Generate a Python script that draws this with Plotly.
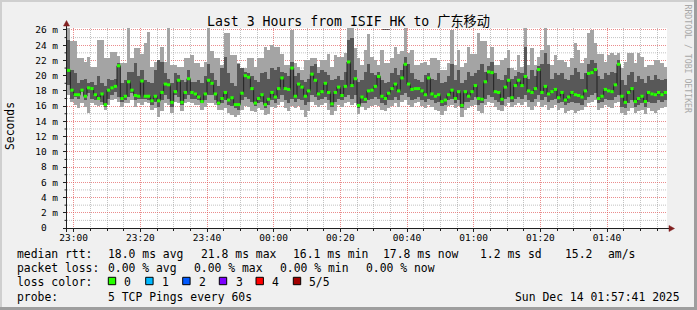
import plotly.graph_objects as go
from datetime import datetime, timedelta

# ---------------- data (ms) ----------------
median_rtt = [
    20.7, 18.1, 17.5, 17.5, 18.1, 17.3, 18.4, 18.3, 17.5, 17.0,
    17.6, 16.2, 18.1, 18.4, 18.6, 21.3, 17.0, 17.3, 19.2, 18.1,
    17.4, 17.3, 19.3, 17.3, 17.3, 16.7, 17.3, 16.7, 17.8, 18.9,
    18.8, 16.5, 17.9, 19.4, 16.5, 17.8, 19.6, 17.8, 17.6, 17.2,
    16.6, 17.6, 19.4, 19.0, 17.6, 16.4, 17.0, 17.8, 16.8, 17.1,
    16.2, 16.2, 17.7, 20.0, 19.8, 18.3, 16.4, 17.0, 17.5, 16.2,
    16.9, 17.8, 17.2, 18.3, 19.7, 18.3, 18.2, 21.0, 17.3, 18.9,
    18.5, 17.3, 18.0, 20.2, 19.4, 17.6, 17.9, 19.0, 17.8, 16.3,
    17.8, 18.5, 17.4, 18.6, 21.8, 18.7, 19.6, 16.1, 17.2, 16.9,
    18.0, 18.1, 18.6, 19.9, 17.3, 17.0, 17.7, 18.3, 18.9, 18.0,
    19.7, 21.5, 18.9, 18.2, 18.3, 18.3, 18.0, 17.5, 19.7, 17.6,
    17.3, 17.5, 16.6, 16.8, 17.5, 18.1, 17.0, 17.9, 16.1, 17.9,
    17.3, 17.9, 18.7, 17.0, 16.9, 19.2, 20.5, 20.4, 17.9, 17.8,
    16.9, 18.5, 19.4, 17.1, 18.7, 19.4, 18.7, 19.9, 18.0, 17.8,
    18.3, 20.8, 17.8, 18.6, 17.6, 17.9, 18.2, 17.1, 17.8, 16.8,
    17.2, 17.8, 17.5, 17.4, 17.2, 18.0, 20.3, 20.4, 20.8, 17.0,
    17.3, 18.2, 18.0, 17.9, 18.8, 21.5, 17.3, 16.5, 17.8, 18.3,
    16.6, 17.0, 17.3, 16.6, 17.8, 17.6, 17.5, 17.8, 17.5, 17.8,
]

ping_max = [
    26.5, 24.5, 24.5, 22.3, 22.3, 21.8, 22.5, 21.2, 21.2, 24.7,
    24.7, 22.3, 22.3, 23.1, 23.1, 22.6, 21.6, 21.6, 26.5, 22.3,
    23.6, 23.6, 22.9, 24.3, 25.7, 21.2, 21.8, 21.8, 23.8, 21.8,
    26.5, 21.4, 21.4, 21.2, 21.2, 22.3, 22.3, 22.7, 21.6, 21.6,
    21.2, 21.8, 26.5, 23.2, 22.3, 22.3, 21.4, 25.6, 25.6, 22.7,
    22.7, 21.6, 21.0, 21.0, 22.3, 22.3, 21.2, 22.3, 22.3, 23.8,
    23.4, 24.0, 23.8, 23.8, 22.9, 21.4, 21.4, 26.0, 21.6, 21.2,
    20.8, 22.0, 22.0, 22.3, 22.3, 21.2, 22.0, 22.0, 22.9, 21.2,
    22.7, 22.5, 22.5, 23.0, 26.5, 26.5, 23.6, 22.3, 21.4, 23.4,
    25.5, 22.5, 22.0, 21.4, 23.4, 21.6, 21.6, 22.3, 23.8, 22.9,
    23.2, 26.5, 23.0, 23.4, 21.4, 21.4, 21.6, 21.8, 21.4, 22.3,
    22.3, 22.0, 20.8, 20.8, 21.6, 26.0, 21.4, 23.4, 21.2, 21.6,
    23.8, 22.9, 22.9, 25.6, 24.5, 24.5, 22.3, 23.8, 21.4, 21.4,
    22.0, 22.3, 23.4, 21.0, 20.8, 22.7, 21.2, 26.5, 21.4, 23.6,
    21.4, 22.5, 23.4, 26.5, 24.0, 21.4, 22.7, 22.0, 22.0, 21.8,
    21.2, 22.3, 24.3, 23.4, 21.6, 22.3, 25.6, 26.0, 24.3, 22.9,
    22.9, 21.8, 22.7, 23.0, 22.7, 23.0, 21.0, 21.8, 23.0, 23.0,
    21.6, 23.0, 22.5, 21.2, 21.4, 21.4, 22.0, 22.0, 21.6, 21.2,
]

ping_q3 = [
    24.7, 20.8, 20.3, 19.0, 19.4, 19.6, 19.0, 19.2, 18.8, 19.9,
    19.0, 18.6, 19.6, 19.4, 19.6, 21.6, 19.0, 19.4, 20.5, 20.5,
    21.6, 19.9, 20.8, 19.4, 19.2, 19.0, 20.8, 22.1, 21.8, 20.3,
    19.6, 19.0, 20.3, 20.1, 19.4, 19.2, 20.8, 19.2, 19.2, 19.4,
    19.0, 19.9, 21.5, 20.3, 19.4, 18.6, 21.0, 22.5, 20.3, 19.0,
    18.6, 21.5, 21.0, 20.5, 20.3, 19.9, 19.4, 19.2, 20.3, 20.5,
    19.6, 21.0, 20.8, 21.2, 20.5, 20.3, 19.9, 21.8, 19.9, 20.3,
    19.4, 19.2, 19.6, 21.3, 21.5, 20.3, 20.8, 20.5, 20.1, 19.4,
    19.6, 19.9, 19.4, 20.5, 24.7, 25.0, 20.8, 19.2, 19.4, 20.5,
    21.5, 20.3, 20.1, 20.5, 19.4, 19.0, 19.2, 20.3, 21.0, 20.1,
    20.8, 22.5, 21.5, 20.3, 19.6, 19.4, 19.2, 20.1, 20.3, 19.6,
    19.4, 20.3, 19.0, 19.2, 19.9, 21.5, 19.4, 20.8, 19.0, 19.4,
    20.5, 19.9, 20.3, 20.8, 21.5, 20.5, 21.3, 21.8, 20.3, 19.6,
    19.4, 20.1, 21.0, 19.6, 19.9, 20.5, 20.3, 23.8, 19.6, 20.8,
    19.9, 21.3, 21.5, 23.0, 21.5, 19.6, 20.3, 20.1, 20.3, 19.6,
    19.4, 20.1, 21.0, 20.5, 19.6, 20.3, 21.5, 22.0, 21.6, 19.9,
    19.6, 20.3, 20.1, 20.5, 20.3, 22.1, 19.4, 18.8, 20.1, 20.5,
    19.2, 19.9, 19.6, 19.0, 19.9, 19.4, 20.1, 19.6, 19.4, 19.6,
]

ping_q1 = [
    18.8, 17.0, 17.2, 17.0, 17.9, 16.8, 17.7, 17.0, 16.8, 16.8,
    16.6, 15.9, 17.0, 17.5, 17.9, 17.2, 16.6, 16.8, 17.2, 17.7,
    16.8, 17.0, 17.0, 17.0, 16.8, 16.2, 16.6, 15.9, 16.8, 17.5,
    17.0, 15.9, 17.5, 17.2, 16.2, 17.0, 17.5, 17.0, 17.0, 16.8,
    16.4, 16.8, 17.5, 17.5, 16.8, 16.2, 16.4, 16.8, 16.2, 16.0,
    15.7, 15.5, 16.8, 17.2, 17.0, 16.6, 16.0, 16.4, 16.6, 15.8,
    16.2, 16.8, 16.4, 17.0, 17.5, 16.8, 16.4, 17.0, 16.6, 17.0,
    16.8, 16.2, 16.6, 17.5, 17.2, 16.8, 17.0, 17.2, 16.8, 15.9,
    16.6, 17.0, 16.8, 17.2, 17.5, 17.0, 17.5, 15.7, 16.4, 16.4,
    16.8, 17.0, 17.2, 17.0, 16.4, 16.2, 16.8, 16.8, 17.2, 16.8,
    17.5, 17.7, 17.2, 16.8, 17.0, 17.2, 16.8, 16.6, 17.0, 16.8,
    16.4, 16.6, 16.0, 16.2, 16.8, 17.0, 16.4, 16.8, 15.7, 16.6,
    16.6, 16.8, 17.2, 16.2, 16.4, 17.0, 17.5, 17.2, 16.8, 16.6,
    16.2, 17.0, 17.2, 16.6, 17.0, 17.2, 17.0, 17.5, 16.8, 16.6,
    17.0, 17.5, 16.8, 17.2, 16.6, 16.8, 17.0, 16.4, 16.6, 16.2,
    16.4, 16.6, 16.4, 16.4, 16.2, 16.8, 17.2, 17.5, 17.7, 16.4,
    16.6, 17.0, 16.8, 16.8, 17.2, 17.5, 15.9, 15.7, 16.4, 16.8,
    15.9, 16.2, 16.4, 15.9, 16.6, 16.4, 16.4, 16.8, 16.6, 16.8,
]

ping_min = [
    17.5, 16.6, 16.2, 15.7, 16.4, 15.9, 15.1, 16.4, 16.2, 16.0,
    16.2, 15.5, 16.2, 16.8, 17.0, 16.6, 15.9, 16.4, 16.4, 16.8,
    15.9, 16.4, 16.2, 16.6, 16.4, 15.5, 15.7, 14.6, 15.3, 16.4,
    16.2, 15.1, 16.6, 16.4, 15.3, 16.4, 16.6, 16.4, 16.2, 16.2,
    15.5, 15.9, 16.4, 16.4, 16.2, 15.5, 15.5, 15.7, 15.1, 14.8,
    14.6, 14.8, 15.5, 16.0, 15.9, 15.3, 15.2, 15.7, 15.5, 14.8,
    15.0, 15.9, 15.7, 16.2, 16.6, 15.7, 15.3, 16.0, 15.7, 16.0,
    15.5, 14.6, 15.3, 16.6, 16.2, 15.9, 16.2, 16.4, 15.5, 14.8,
    15.3, 16.2, 15.9, 16.4, 16.6, 16.2, 16.4, 15.0, 15.9, 15.5,
    15.7, 16.0, 16.2, 16.0, 15.5, 15.3, 15.7, 16.0, 16.4, 15.9,
    16.6, 16.8, 16.2, 15.9, 16.4, 16.6, 16.0, 15.7, 16.2, 15.9,
    15.5, 15.3, 14.8, 15.3, 16.0, 16.2, 15.7, 16.0, 14.6, 15.5,
    15.7, 16.0, 16.2, 15.3, 15.1, 16.2, 16.6, 16.4, 15.9, 15.5,
    15.3, 16.0, 16.4, 15.9, 16.2, 16.4, 16.2, 16.6, 15.9, 15.5,
    16.0, 16.6, 15.9, 16.2, 15.5, 15.7, 16.2, 15.5, 15.7, 15.1,
    15.3, 15.5, 15.1, 15.3, 15.5, 15.9, 16.4, 16.6, 16.8, 15.5,
    15.7, 16.2, 15.9, 15.7, 16.4, 16.6, 15.1, 14.8, 15.3, 15.7,
    15.1, 15.3, 15.5, 15.0, 15.7, 15.3, 15.1, 15.5, 15.7, 15.9,
]

y_tick_values = [0, 2, 4, 6, 8, 10, 12, 14, 16, 18, 20, 22, 24, 26]
y_tick_labels = ["0\u00a0\u00a0", "2 m", "4 m", "6 m", "8 m", "10 m", "12 m", "14 m",
                 "16 m", "18 m", "20 m", "22 m", "24 m", "26 m"]
y_minor_values = [1, 3, 5, 7, 9, 11, 13, 15, 17, 19, 21, 23, 25]

loss_labels = ["0", "1", "2", "3", "4", "5/5"]
loss_colors = ["#26ff00", "#00b8ff", "#0059ff", "#7e00ff", "#ff0000", "#a10000"]

title_text = "Last 3 Hours from ISIF_HK to 广东移动"
stats_rtt = ["median rtt:", "18.0 ms avg", "21.8 ms max", "16.1 ms min",
             "17.8 ms now", "1.2 ms sd", "15.2", "am/s"]
stats_loss = ["packet loss:", "0.00 % avg", "0.00 % max", "0.00 % min", "0.00 % now"]
probe_text = ["probe:", "5 TCP Pings every 60s"]
stamp_text = "Sun Dec 14 01:57:41 2025"

# ---------------- geometry helpers (pixel -> paper) ----------------
W, H = 697, 310
L, R, T, B = 67, 667, 28, 228


def px(x):
    return (x - L) / (R - L)


def py(y):
    return (B - y) / (B - T)


start = datetime(2025, 12, 13, 22, 58, 0)
n = len(median_rtt)
starts = [start + timedelta(minutes=i) for i in range(n)]
centers = [s + timedelta(seconds=30) for s in starts]
end = start + timedelta(minutes=180)

MONO = "DejaVu Sans Mono, Noto Sans CJK SC, monospace"

fig = go.Figure()

fig.add_trace(go.Bar(
    x=centers, y=[a - b for a, b in zip(ping_max, ping_min)], base=ping_min,
    width=60000, marker=dict(color="#a4a4a4", line=dict(width=0)),
    hoverinfo="skip", showlegend=False))
fig.add_trace(go.Bar(
    x=centers, y=[a - b for a, b in zip(ping_q3, ping_q1)], base=ping_q1,
    width=60000, marker=dict(color="#585858", line=dict(width=0)),
    hoverinfo="skip", showlegend=False))

# median step line (black connectors)
fig.add_trace(go.Scatter(
    x=starts + [end], y=median_rtt + [median_rtt[-1]], mode="lines",
    line=dict(color="#202020", width=1, shape="hv"),
    hoverinfo="skip", showlegend=False))

# median coloured segments
gx, gy = [], []
for s, m in zip(starts, median_rtt):
    gx += [s, s + timedelta(minutes=1), None]
    gy += [m, m, None]
fig.add_trace(go.Scatter(
    x=gx, y=gy, mode="lines", line=dict(color=loss_colors[0], width=3),
    hoverinfo="skip", showlegend=False))

GRID = "rgba(143,143,143,0.55)"
MGRID = "rgba(222,79,79,0.65)"

fig.update_layout(
    width=W, height=H,
    margin=dict(l=L, r=W - R, t=T, b=H - B, pad=0),
    paper_bgcolor="#f0f0f0", plot_bgcolor="#ffffff",
    barmode="overlay", bargap=0,
    showlegend=False,
    font=dict(family=MONO, color="#000000", size=9.5),
    xaxis=dict(
        type="date", range=[start, end], fixedrange=True,
        tickformat="%H:%M", tick0="2025-12-13 23:00:00", dtick=20 * 60000,
        tickfont=dict(family=MONO, size=9.5, color="#000000"),
        showgrid=True, gridcolor=MGRID, griddash="1px,1px", gridwidth=1,
        ticks="outside", ticklen=3, tickcolor="#1f1f1f", tickwidth=1,
        ticklabelstandoff=-2,
        minor=dict(dtick=5 * 60000, tick0="2025-12-13 23:00:00",
                   showgrid=True, gridcolor=GRID, griddash="1px,1px",
                   ticks="outside", ticklen=2, tickcolor="#1f1f1f"),
        showline=False, zeroline=False,
    ),
    yaxis=dict(
        range=[0, 26.26], fixedrange=True,
        tickmode="array", tickvals=y_tick_values, ticktext=y_tick_labels,
        tickfont=dict(family=MONO, size=9.5, color="#000000"),
        showgrid=True, gridcolor=MGRID, griddash="1px,1px", gridwidth=1,
        ticks="outside", ticklen=3, tickcolor="#1f1f1f", tickwidth=1,
        ticklabelstandoff=3,
        showline=False, zeroline=False,
    ),
)

shapes = []
# minor horizontal grid (odd ms values)
for v in y_minor_values:
    shapes.append(dict(type="line", xref="paper", yref="y", x0=0, x1=1, y0=v, y1=v,
                       line=dict(color=GRID, width=1, dash="1px,1px"), layer="below"))
# frame (3D border)
shapes.append(dict(type="line", xref="paper", yref="paper", x0=px(0), x1=px(W), y0=py(1), y1=py(1),
                   line=dict(color="#cfcfcf", width=2)))
shapes.append(dict(type="line", xref="paper", yref="paper", x0=px(1), x1=px(1), y0=py(0), y1=py(H),
                   line=dict(color="#cfcfcf", width=2)))
shapes.append(dict(type="line", xref="paper", yref="paper", x0=px(0), x1=px(W), y0=py(H - 1.5), y1=py(H - 1.5),
                   line=dict(color="#9e9e9e", width=3)))
shapes.append(dict(type="line", xref="paper", yref="paper", x0=px(W - 1.5), x1=px(W - 1.5), y0=py(0), y1=py(H),
                   line=dict(color="#9e9e9e", width=3)))
# axes
shapes.append(dict(type="line", xref="paper", yref="paper", x0=px(63), x1=px(670), y0=py(228.5), y1=py(228.5),
                   line=dict(color="#1f1f1f", width=1), layer="above"))
shapes.append(dict(type="line", xref="paper", yref="paper", x0=px(66.5), x1=px(66.5), y0=py(232), y1=py(24),
                   line=dict(color="#1f1f1f", width=1), layer="above"))
# small minor ticks on the y axis
for v in y_minor_values:
    shapes.append(dict(type="line", xref="paper", yref="y", x0=px(64.5), x1=px(66.5), y0=v, y1=v,
                       line=dict(color="#1f1f1f", width=1), layer="above"))
# arrows
shapes.append(dict(type="path", xref="paper", yref="paper",
                   path=f"M {px(674.5)},{py(228.5)} L {px(669)},{py(225.5)} L {px(669)},{py(231.5)} Z",
                   fillcolor="#801f1f", line=dict(color="#801f1f", width=0.5), layer="above"))
shapes.append(dict(type="path", xref="paper", yref="paper",
                   path=f"M {px(66.5)},{py(20.5)} L {px(63.5)},{py(26)} L {px(69.5)},{py(26)} Z",
                   fillcolor="#801f1f", line=dict(color="#801f1f", width=0.5), layer="above"))
# loss colour boxes
box_x = [108.3, 145.7, 182.7, 219.3, 256.0, 293.3]
for bx, c in zip(box_x, loss_colors):
    shapes.append(dict(type="rect", xref="paper", yref="paper",
                       x0=px(bx), x1=px(bx + 7.4), y0=py(284.7), y1=py(277.3),
                       fillcolor=c, line=dict(color="#000000", width=1)))
fig.update_layout(shapes=shapes)

ann = []


def text(x, y, s, size=11.4, anchor="left", color="#000000", angle=0, yanchor="middle"):
    ann.append(dict(xref="paper", yref="paper", x=px(x), y=py(y), text=s, showarrow=False,
                    xanchor=anchor, yanchor=yanchor, textangle=angle,
                    font=dict(family=MONO, size=size, color=color), borderpad=0))


text(205.5, 22.5, title_text, size=13.2)
text(10, 126, "Seconds", size=11.4, anchor="center", angle=-90)
text(687.5, 59, "RRDTOOL / TOBI OETIKER", size=8.2, anchor="center", color="#a8a8a8", angle=90)

rtt_x = [15.5, 106.5, 199.5, 291.5, 381.5, 478.5, 563.5, 607]
for x, s in zip(rtt_x, stats_rtt):
    text(x, 254.2, s)
loss_x = [15.5, 106.5, 192.5, 278.5, 364.5]
for x, s in zip(loss_x, stats_loss):
    text(x, 268.3, s)
text(15.5, 282.3, "loss color:")
lab_x = [122.8, 160.5, 197.8, 234.5, 270.5, 307.8]
for x, s in zip(lab_x, loss_labels):
    text(x, 282.3, s)
text(15.5, 296.6, probe_text[0])
text(106.5, 296.6, probe_text[1])
text(681, 296.6, stamp_text, anchor="right")

fig.update_layout(annotations=ann)

fig.write_html("out.html", config={"displayModeBar": False})
